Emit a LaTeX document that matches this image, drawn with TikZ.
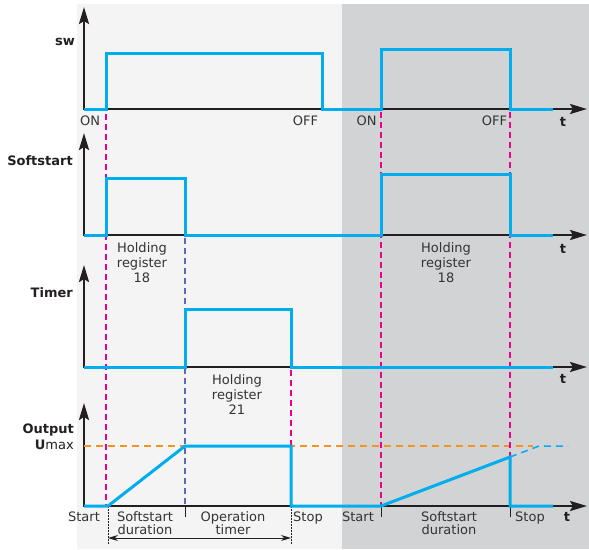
\documentclass[tikz,border=0pt]{standalone}
\usepackage{fontspec}
\setmainfont{DejaVu Sans}
\usetikzlibrary{arrows.meta}
\definecolor{sig}{HTML}{00AEEF}
\definecolor{pinkD}{HTML}{EC008C}
\definecolor{blueD}{HTML}{5A6BAE}
\definecolor{orangeD}{HTML}{F7941D}
\definecolor{txt}{HTML}{333333}
\definecolor{hdrc}{HTML}{231F20}
\definecolor{axc}{HTML}{231F20}
\definecolor{bgl}{HTML}{F4F4F4}
\definecolor{bgd}{HTML}{D1D3D4}
\begin{document}
\begin{tikzpicture}[x=1pt,y=-1pt,
  axis/.style={draw=axc, line width=2.6pt, line join=miter,
    {Stealth[length=17pt,width=10pt,inset=3pt]}-{Stealth[length=17pt,width=10pt,inset=3pt]}},
  signal/.style={draw=sig, line width=3pt, line join=miter},
  sigdash/.style={draw=sig, line width=1.5pt, dash pattern=on 7pt off 5pt},
  pinkdash/.style={draw=pinkD, line width=1.3pt, dash pattern=on 6pt off 4pt},
  bluedash/.style={draw=blueD, line width=1.3pt, dash pattern=on 6pt off 4pt},
  orangedash/.style={draw=orangeD, line width=1.3pt, dash pattern=on 7pt off 5pt},
  tickmark/.style={draw=axc, line width=1pt},
  dotline/.style={draw=axc, line width=0.9pt, dash pattern=on 1.5pt off 1.5pt},
  span/.style={draw=axc, line width=1pt, {Stealth[length=10pt,width=6pt]}-{Stealth[length=10pt,width=6pt]}},
  lbl/.style={font=\fontsize{13}{15}\selectfont, text=txt, inner sep=0pt, anchor=base},
  tlbl/.style={font=\fontsize{13}{15}\selectfont\bfseries, text=hdrc, inner sep=0pt, anchor=base},
  hdr/.style={font=\fontsize{13}{15}\selectfont\bfseries, text=hdrc, inner sep=0pt, anchor=base east},
]
\useasboundingbox (0,0) rectangle (589,549);
\fill[bgl] (77,4) rectangle (342,549);
\fill[bgd] (342,4) rectangle (589,549);

% axes
\coordinate (o1) at (84,109); \coordinate (y1) at (84,7);   \coordinate (x1) at (587,109);
\coordinate (o2) at (84,235); \coordinate (y2) at (84,133); \coordinate (x2) at (587,235);
\coordinate (o3) at (84,367); \coordinate (y3) at (84,265); \coordinate (x3) at (587,367);
\coordinate (o4) at (84,506); \coordinate (y4) at (84,403); \coordinate (x4) at (587,506);
\draw[axis] (y1) -- (o1) -- (x1);
\draw[axis] (y2) -- (o2) -- (x2);
\draw[axis] (y3) -- (o3) -- (x3);
\draw[axis] (y4) -- (o4) -- (x4);

% guide lines
\draw[orangedash] (84,446) -- (533,446);
\draw[pinkdash] (106,114) -- (106,506);
\draw[pinkdash] (291,370) -- (291,506);
\draw[pinkdash] (381,112) -- (381,506);
\draw[pinkdash] (510,112) -- (510,506);
\draw[bluedash] (185,238) -- (185,506);

% ticks and duration markers
\draw[tickmark] (185,506) -- (185,517);
\draw[tickmark] (381,506) -- (381,517);
\draw[tickmark] (510,506) -- (510,517);
\coordinate (d1) at (108,506); \coordinate (d1b) at (108,545);
\coordinate (d2) at (291,506); \coordinate (d2b) at (291,545);
\draw[dotline] (d1) -- (d1b);
\draw[dotline] (d2) -- (d2b);
\coordinate (s1) at (108,538); \coordinate (s2) at (291,538);
\draw[span] (s1) -- (s2);

% signals
\draw[signal] (84,109) -- (106,109) -- (106,53) -- (322,53) -- (322,109) -- (381,109)
  -- (381,49) -- (510,49) -- (510,109) -- (553,109);
\draw[signal] (84,235) -- (106,235) -- (106,178) -- (185,178) -- (185,235) -- (381,235)
  -- (381,174) -- (510,174) -- (510,235) -- (553,235);
\draw[signal] (84,367) -- (185,367) -- (185,309) -- (291,309) -- (291,367) -- (553,367);
\draw[signal] (84,506) -- (108,506) -- (185,446) -- (291,446) -- (291,506) -- (381,506)
  -- (510,457) -- (510,506) -- (553,506);
\draw[sigdash] (510,457) -- (539,446) -- (568,446);

% headers
\node[hdr] (hsw) at (75,45) {sw};
\node[hdr] (hss) at (73,165) {Softstart};
\node[hdr] (htm) at (73,297) {Timer};
\node[hdr] (hout) at (74,433) {Output};
\node[hdr] (humax) at (74,449) {U\mdseries max};

% sw labels
\node[lbl] (on1) at (90,125) {ON};
\node[lbl] (off1) at (305.5,125) {OFF};
\node[lbl] (on2) at (366.5,125) {ON};
\node[lbl] (off2) at (494.5,125) {OFF};
\node[tlbl] (t1) at (563,126) {t};

% softstart labels
\node[lbl] (hr1a) at (142,252) {Holding};
\node[lbl] (hr1b) at (142,267) {register};
\node[lbl] (hr1c) at (142,282) {18};
\node[lbl] (hr2a) at (446,252) {Holding};
\node[lbl] (hr2b) at (446,267) {register};
\node[lbl] (hr2c) at (446,282) {18};
\node[tlbl] (t2) at (563,253) {t};

% timer labels
\node[lbl] (hr3a) at (237,384) {Holding};
\node[lbl] (hr3b) at (237,399) {register};
\node[lbl] (hr3c) at (237,414) {21};
\node[tlbl] (t3) at (563,383) {t};

% output labels
\node[lbl] (st1) at (84,521) {Start};
\node[lbl] (sd1a) at (145,521) {Softstart};
\node[lbl] (sd1b) at (145,534) {duration};
\node[lbl] (ot1a) at (233,521) {Operation};
\node[lbl] (ot1b) at (233,534) {timer};
\node[lbl] (sp1) at (308,521) {Stop};
\node[lbl] (st2) at (358,521) {Start};
\node[lbl] (sd2a) at (449,521) {Softstart};
\node[lbl] (sd2b) at (449,534) {duration};
\node[lbl] (sp2) at (530,521) {Stop};
\node[tlbl] (t4) at (567,521) {t};
\end{tikzpicture}
\end{document}
